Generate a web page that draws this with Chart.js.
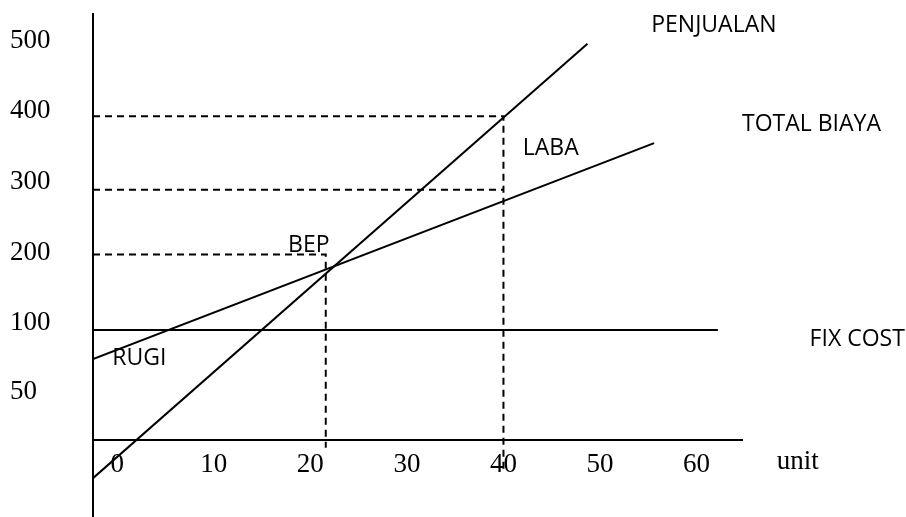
<!DOCTYPE html>
<html lang="id">
<head>
<meta charset="utf-8">
<title>Break Even Point</title>
<script src="https://cdn.jsdelivr.net/npm/chart.js@4.4.1/dist/chart.umd.min.js"></script>
<style>
    html, body { margin: 0; padding: 0; background: #fff; }
    #bepChart { display: block; }
</style>
</head>
<body>
<canvas id="bepChart" width="906" height="517"></canvas>
<script>
// tick labels as printed on the sketch
var xTickValues = [0, 10, 20, 30, 40, 50, 60];
var xTickLabels = ['0', '10', '20', '30', '40', '50', '60'];
// the "50" is drawn much lower than a linear 50 would be, so it keeps its own spot
var yTickValues = [500, 400, 300, 200, 100, 2];
var yTickLabels = ['500', '400', '300', '200', '100', '50'];

// main lines (unit, value)
var penjualanX = [-2.5, 48.7];
var penjualanY = [-120, 496];
var totalBiayaX = [-2.5, 55.6];
var totalBiayaY = [49, 355];
var fixCostX = [-2.5, 62.2];
var fixCostY = [90, 90];

// dashed guide lines
var bepGuideX = [-2.5, 21.6, 21.6];
var bepGuideY = [197, 197, -77];
var biayaGuideX = [-2.5, 40];
var biayaGuideY = [289, 289];
var labaGuideX = [-2.5, 40, 40];
var labaGuideY = [393, 393, -113];

// where the x axis line crosses the y scale
var xAxisAt = -66;

// text on the drawing
var labelTexts = ['PENJUALAN', 'TOTAL BIAYA', 'LABA', 'BEP', 'RUGI', 'FIX COST'];
var labelX = [55.3, 64.7, 42.0, 17.7, -0.5, 71.7];
var labelY = [522, 382, 348, 210, 50, 77];
var unitLabel = 'unit';
var unitX = 68.3;
var unitY = -97;

function toPoints(xs, ys) {
    return xs.map(function (x, i) {
        return { x: x, y: ys[i] };
    });
}

function lineSet(xs, ys, dashed) {
    return {
        data: toPoints(xs, ys),
        showLine: true,
        fill: false,
        tension: 0,
        borderColor: '#000',
        borderWidth: 2,
        borderDash: dashed ? [7, 5] : [],
        pointRadius: 0,
        pointHoverRadius: 0
    };
}

var textLabels = {
    id: 'textLabels',
    afterDraw: function (chart) {
        var ctx = chart.ctx;
        var xs = chart.scales.x;
        var ys = chart.scales.y;
        ctx.save();
        ctx.fillStyle = '#000';
        ctx.textAlign = 'left';
        ctx.textBaseline = 'middle';
        ctx.font = '23px "Open Sans"';
        labelTexts.forEach(function (t, i) {
            ctx.fillText(t, xs.getPixelForValue(labelX[i]), ys.getPixelForValue(labelY[i]));
        });
        ctx.font = '27px "Liberation Serif"';
        ctx.fillText(unitLabel, xs.getPixelForValue(unitX), ys.getPixelForValue(unitY));
        ctx.restore();
    }
};

document.addEventListener("DOMContentLoaded", function () {
    var ctx = document.getElementById('bepChart').getContext('2d');

    var tickFont = { family: 'Liberation Serif', size: 27 };

    new Chart(ctx, {
        type: 'scatter',
        data: {
            datasets: [
                lineSet(penjualanX, penjualanY, false),
                lineSet(totalBiayaX, totalBiayaY, false),
                lineSet(fixCostX, fixCostY, false),
                lineSet(bepGuideX, bepGuideY, true),
                lineSet(biayaGuideX, biayaGuideY, true),
                lineSet(labaGuideX, labaGuideY, true)
            ]
        },
        options: {
            responsive: false,
            animation: false,
            events: [],
            layout: {
                padding: { left: 10, top: 14, right: 164, bottom: 0 }
            },
            plugins: {
                legend: { display: false },
                tooltip: { enabled: false }
            },
            scales: {
                x: {
                    type: 'linear',
                    position: { y: xAxisAt },
                    min: -2.5,
                    max: 64.7,
                    grid: { display: false, drawTicks: false },
                    border: { display: true, color: '#000', width: 2 },
                    afterBuildTicks: function (axis) {
                        axis.ticks = xTickValues.map(function (v) { return { value: v }; });
                    },
                    afterFit: function (axis) {
                        axis.paddingLeft = 0;
                        axis.paddingRight = 0;
                    },
                    ticks: {
                        autoSkip: false,
                        maxRotation: 0,
                        padding: 9,
                        color: '#000',
                        font: tickFont,
                        callback: function (value, index) {
                            return xTickLabels[index];
                        }
                    }
                },
                y: {
                    type: 'linear',
                    position: 'left',
                    min: -175,
                    max: 538,
                    grid: { display: false, drawTicks: false },
                    border: { display: true, color: '#000', width: 2 },
                    afterBuildTicks: function (axis) {
                        axis.ticks = yTickValues.map(function (v) { return { value: v }; });
                    },
                    afterFit: function (axis) {
                        axis.width = 83;
                        axis.paddingTop = 0;
                        axis.paddingBottom = 0;
                    },
                    ticks: {
                        autoSkip: false,
                        crossAlign: 'far',
                        color: '#000',
                        font: tickFont,
                        callback: function (value, index) {
                            return yTickLabels[index];
                        }
                    }
                }
            }
        },
        plugins: [textLabels]
    });
});
</script>
</body>
</html>
